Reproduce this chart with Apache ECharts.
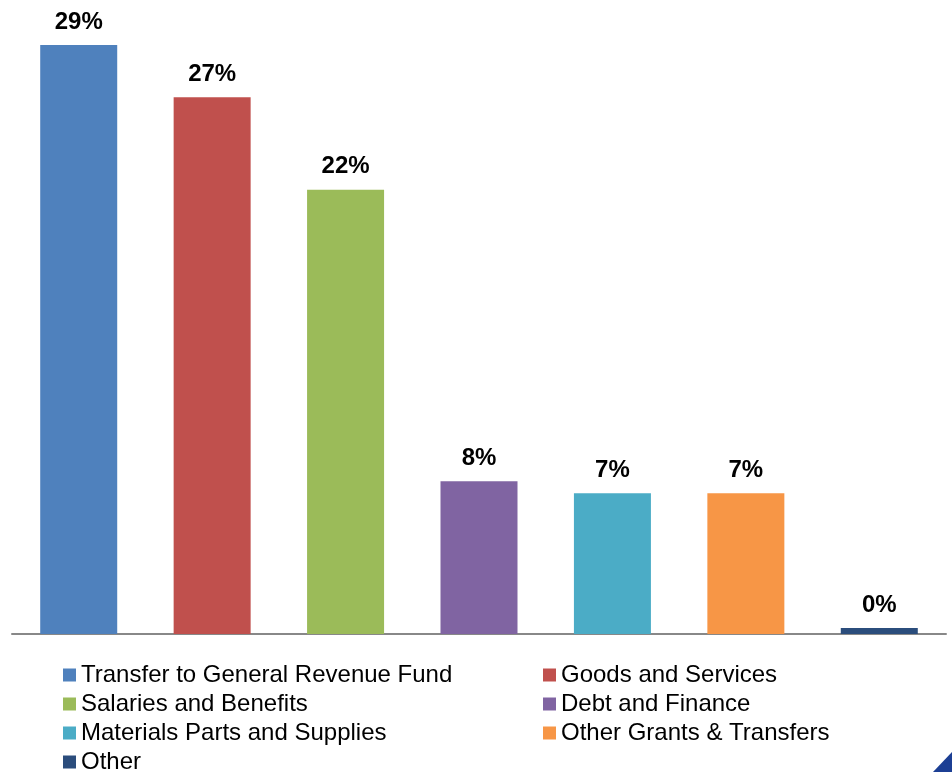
<!DOCTYPE html>
<html>
<head>
<meta charset="utf-8">
<script src="https://cdn.jsdelivr.net/npm/echarts@6/dist/echarts.min.js"></script>
<style>
html,body{margin:0;padding:0;background:#fff;}
#chart{width:952px;height:772px;}
</style>
</head>
<body>
<div id="chart"></div>
<script>
var categories = ['Transfer to General Revenue Fund','Goods and Services','Salaries and Benefits','Debt and Finance','Materials Parts and Supplies','Other Grants & Transfers','Other'];
var values = [29.3, 26.7, 22.1, 7.6, 7.0, 7.0, 0.3];
var valueLabels = ['29%','27%','22%','8%','7%','7%','0%'];
var colors = ['#4F81BD','#C0504D','#9BBB59','#8064A2','#4BACC6','#F79646','#2B4D7C'];
var legendLeftCol = ['Transfer to General Revenue Fund','Salaries and Benefits','Materials Parts and Supplies','Other'];
var legendRightCol = ['Goods and Services','Debt and Finance','Other Grants & Transfers'];

var FONT = '"Liberation Sans", Arial, sans-serif';
var series = categories.map(function(name, i){
  var d = categories.map(function(_, j){ return j === i ? values[i] : '-'; });
  return {
    name: name,
    type: 'bar',
    stack: 'all',
    barWidth: 77,
    data: d,
    itemStyle: {color: colors[i]},
    label: {
      show: true,
      position: 'top',
      distance: 11,
      formatter: function(){ return valueLabels[i]; },
      fontFamily: FONT,
      fontSize: 24,
      fontWeight: 'bold',
      color: '#000'
    }
  };
});

function legendCol(left, data){
  return {
    orient: 'vertical',
    left: left,
    top: 663,
    height: 150,
    padding: 0,
    itemWidth: 13,
    itemHeight: 13,
    itemGap: 5,
    icon: 'rect',
    data: data,
    selectedMode: false,
    textStyle: {fontFamily: FONT, fontSize: 24, color: '#000'}
  };
}

var chart = echarts.init(document.getElementById('chart'), null, {renderer:'canvas'});
chart.setOption({
  animation: false,
  backgroundColor: '#fff',
  color: colors,
  grid: {left: 12, right: 6, top: 31, bottom: 138, containLabel: false},
  xAxis: {
    type: 'category',
    data: categories,
    axisLine: {show: true, lineStyle: {color: '#888888', width: 2}},
    axisTick: {show: false},
    axisLabel: {show: false},
    splitLine: {show: false}
  },
  yAxis: {
    type: 'value',
    min: 0,
    max: 30,
    show: false,
    splitLine: {show: false}
  },
  legend: [legendCol(63, legendLeftCol), legendCol(543, legendRightCol)],
  graphic: [{
    type: 'polygon',
    shape: {points: [[933,772],[952,752],[952,772]]},
    style: {fill: '#1C3F94'}
  }],
  series: series
});
</script>
</body>
</html>
